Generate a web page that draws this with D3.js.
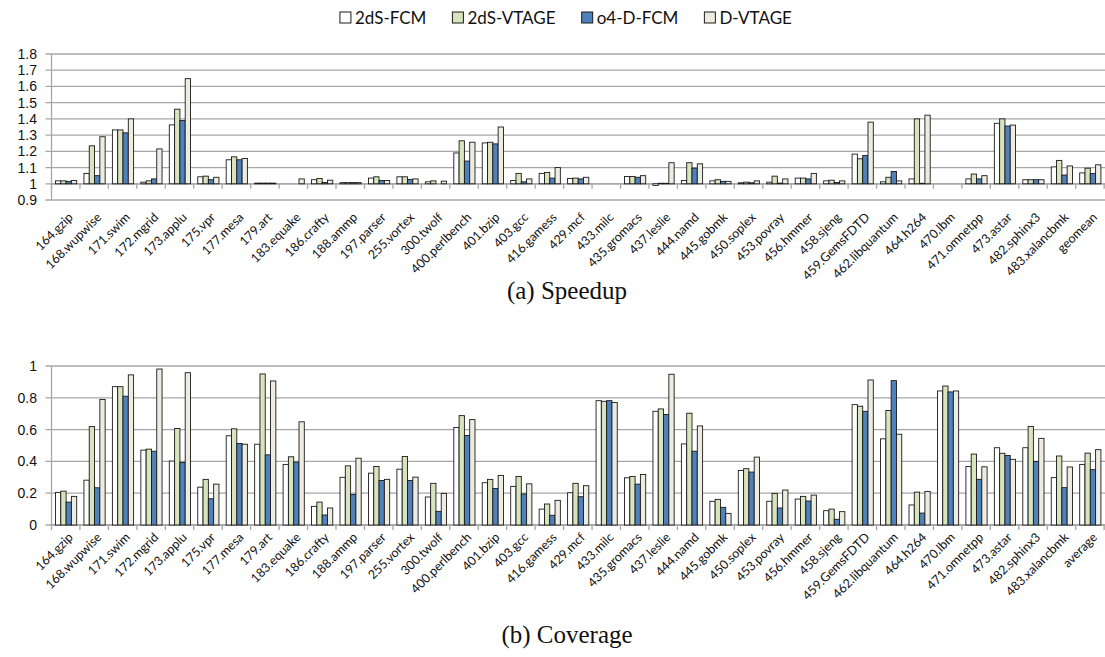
<!DOCTYPE html>
<html><head><meta charset="utf-8">
<script src="https://cdn.jsdelivr.net/npm/d3@7"></script>
<style>body{margin:0;background:#fff;} svg{display:block;}</style>
</head><body>
<svg id="c" width="1105" height="657"></svg>
<script>
const benchmarks = ["164.gzip","168.wupwise","171.swim","172.mgrid","173.applu","175.vpr","177.mesa","179.art","183.equake","186.crafty","188.ammp","197.parser","255.vortex","300.twolf","400.perlbench","401.bzip","403.gcc","416.gamess","429.mcf","433.milc","435.gromacs","437.leslie","444.namd","445.gobmk","450.soplex","453.povray","456.hmmer","458.sjeng","459.GemsFDTD","462.libquantum","464.h264","470.lbm","471.omnetpp","473.astar","482.sphinx3","483.xalancbmk"];
const speedupCats = benchmarks.concat(["geomean"]);
const coverageCats = benchmarks.concat(["average"]);
const seriesNames = ["2dS-FCM","2dS-VTAGE","o4-D-FCM","D-VTAGE"];
const seriesColors = ["#ffffff","#d7e4bd","#4f81bd","#eeece1"];

const sp_2dsFCM   = [1.018,1.064,1.332,1.01,1.363,1.043,1.148,1.004,1.0,1.025,1.007,1.035,1.043,1.012,1.19,1.252,1.02,1.064,1.033,1.0,1.045,0.99,1.02,1.018,1.006,1.01,1.035,1.018,1.183,1.012,1.03,1.0,1.03,1.373,1.025,1.104,1.067];
const sp_2dsVTAGE = [1.018,1.234,1.332,1.018,1.46,1.047,1.166,1.004,1.0,1.033,1.007,1.043,1.043,1.018,1.265,1.256,1.064,1.07,1.035,1.0,1.045,1.003,1.13,1.025,1.01,1.047,1.035,1.022,1.154,1.04,1.40,1.0,1.06,1.40,1.025,1.144,1.096];
const sp_o4DFCM   = [1.015,1.05,1.314,1.03,1.39,1.025,1.148,1.004,1.0,1.008,1.007,1.02,1.027,1.0,1.14,1.246,1.012,1.035,1.03,1.0,1.04,1.003,1.096,1.015,1.006,1.004,1.03,1.008,1.174,1.076,1.003,1.0,1.03,1.356,1.025,1.054,1.063];
const sp_DVTAGE   = [1.02,1.29,1.40,1.215,1.648,1.04,1.156,1.004,1.03,1.022,1.007,1.02,1.03,1.016,1.256,1.35,1.03,1.10,1.04,1.0,1.05,1.13,1.123,1.015,1.018,1.03,1.064,1.018,1.38,1.018,1.423,1.0,1.05,1.362,1.025,1.11,1.117];

const cv_2dsFCM   = [0.205,0.282,0.87,0.471,0.402,0.238,0.561,0.508,0.381,0.117,0.30,0.326,0.351,0.176,0.613,0.266,0.243,0.10,0.203,0.782,0.297,0.715,0.51,0.149,0.343,0.149,0.163,0.09,0.757,0.542,0.126,0.843,0.368,0.486,0.486,0.298,0.381];
const cv_2dsVTAGE = [0.213,0.619,0.87,0.477,0.607,0.287,0.605,0.95,0.429,0.144,0.372,0.368,0.431,0.262,0.688,0.287,0.305,0.132,0.262,0.778,0.305,0.73,0.703,0.161,0.354,0.199,0.18,0.10,0.747,0.72,0.207,0.874,0.446,0.451,0.62,0.434,0.452];
const cv_o4DFCM   = [0.144,0.234,0.81,0.464,0.393,0.165,0.513,0.441,0.395,0.063,0.192,0.28,0.28,0.086,0.563,0.23,0.195,0.061,0.178,0.782,0.257,0.695,0.464,0.111,0.333,0.107,0.151,0.036,0.715,0.908,0.075,0.837,0.287,0.437,0.40,0.235,0.348];
const cv_DVTAGE   = [0.18,0.789,0.944,0.981,0.958,0.257,0.508,0.906,0.649,0.107,0.42,0.287,0.301,0.199,0.663,0.312,0.259,0.155,0.247,0.77,0.318,0.948,0.623,0.073,0.427,0.22,0.188,0.084,0.912,0.571,0.211,0.843,0.366,0.413,0.545,0.365,0.474];

const speedupTicks = [0.9,1.0,1.1,1.2,1.3,1.4,1.5,1.6,1.7,1.8];
const coverageTicks = [0,0.2,0.4,0.6,0.8,1];

const svg = d3.select("#c");
const FONT = "Lato, 'Open Sans', sans-serif";
const gridColor = "#a6a6a6";

function drawPanel(opts){
  const {cats, data, yDomain, yTop, yBottom, baseVal, ticks, fmt, caption, captionY, labelOffset} = opts;
  const x0 = 51.5, x1 = 51.5 + 37*28.45;
  const x = d3.scaleBand().domain(cats).range([x0, x1]).padding(0);
  const xs = d3.scaleBand().domain(seriesNames).range([4, 25.2]).padding(0);
  const y = d3.scaleLinear().domain(yDomain).range([yBottom, yTop]);
  const g = svg.append("g");
  g.selectAll("line.grid").data(ticks).join("line")
    .attr("x1", x0 - 6).attr("x2", 1105)
    .attr("y1", d => y(d)).attr("y2", d => y(d))
    .attr("stroke", gridColor).attr("stroke-width", 1.3);
  g.selectAll("text.yl").data(ticks).join("text")
    .attr("x", 37).attr("y", d => y(d)).attr("dy", "0.36em")
    .attr("text-anchor", "end").attr("font-family", "'Liberation Sans', Arial, sans-serif").attr("font-size", 14).attr("fill", "#111")
    .text(fmt);
  g.append("line").attr("x1", x0).attr("x2", x0).attr("y1", y(yDomain[1])).attr("y2", y(yDomain[0]))
    .attr("stroke", gridColor).attr("stroke-width", 1.3);
  const yb = y(baseVal);
  g.append("line").attr("x1", x0).attr("x2", 1105).attr("y1", yb).attr("y2", yb)
    .attr("stroke", gridColor).attr("stroke-width", 1.3);
  const bounds = d3.range(cats.length + 1).map(i => x0 + i * x.step());
  g.selectAll("line.tk").data(bounds).join("line")
    .attr("x1", d => d).attr("x2", d => d).attr("y1", yb).attr("y2", yb + 5)
    .attr("stroke", gridColor).attr("stroke-width", 1.3);
  cats.forEach((c, i) => {
    seriesNames.forEach((s, j) => {
      const v = data[j][i];
      const top = Math.min(y(v), yb), h = Math.abs(y(v) - yb);
      g.append("rect")
        .attr("x", x(c) + xs(s)).attr("width", xs.bandwidth())
        .attr("y", top).attr("height", h)
        .attr("fill", seriesColors[j]).attr("stroke", "#1a1a1a").attr("stroke-width", 0.9);
    });
  });
  const ly = y(yDomain[0]) + labelOffset;
  g.selectAll("text.cl").data(cats).join("text")
    .attr("transform", d => `translate(${x(d) + x.bandwidth()/2 + 5},${ly}) rotate(-45)`)
    .attr("text-anchor", "end").attr("dy", "0.35em")
    .attr("font-family", FONT).attr("font-size", 12.5).attr("fill", "#111")
    .text(d => d);
  svg.append("text").attr("x", 567).attr("y", captionY).attr("text-anchor", "middle")
    .attr("font-family", "'Liberation Serif', serif").attr("font-size", 25).attr("fill", "#111")
    .text(caption);
}

drawPanel({cats: speedupCats, data: [sp_2dsFCM, sp_2dsVTAGE, sp_o4DFCM, sp_DVTAGE],
  yDomain: [0.9, 1.8], yTop: 54, yBottom: 200, baseVal: 1.0, ticks: speedupTicks,
  fmt: d => d3.format("")(+d.toFixed(1)), caption: "(a) Speedup", captionY: 299, labelOffset: 15});

drawPanel({cats: coverageCats, data: [cv_2dsFCM, cv_2dsVTAGE, cv_o4DFCM, cv_DVTAGE],
  yDomain: [0, 1], yTop: 366, yBottom: 525, baseVal: 0, ticks: coverageTicks,
  fmt: d => d3.format("")(+d.toFixed(1)), caption: "(b) Coverage", captionY: 643, labelOffset: 10});

const lg = svg.append("g");
const items = lg.selectAll("g").data(seriesNames).join("g");
items.append("rect").attr("width", 11).attr("height", 11).attr("y", 12)
  .attr("fill", (d, i) => seriesColors[i]).attr("stroke", "#1a1a1a").attr("stroke-width", 1);
items.append("text").attr("x", 15).attr("y", 17.5).attr("dy", "0.36em")
  .attr("font-family", FONT).attr("font-size", 17).attr("fill", "#111").text(d => d);
let cx = 0; const pos = [];
items.each(function(){ pos.push(cx); cx += this.getBBox().width + 26; });
const total = cx - 26, start = 566 - total/2;
items.attr("transform", (d, i) => `translate(${start + pos[i]},0)`);
</script>
</body></html>
